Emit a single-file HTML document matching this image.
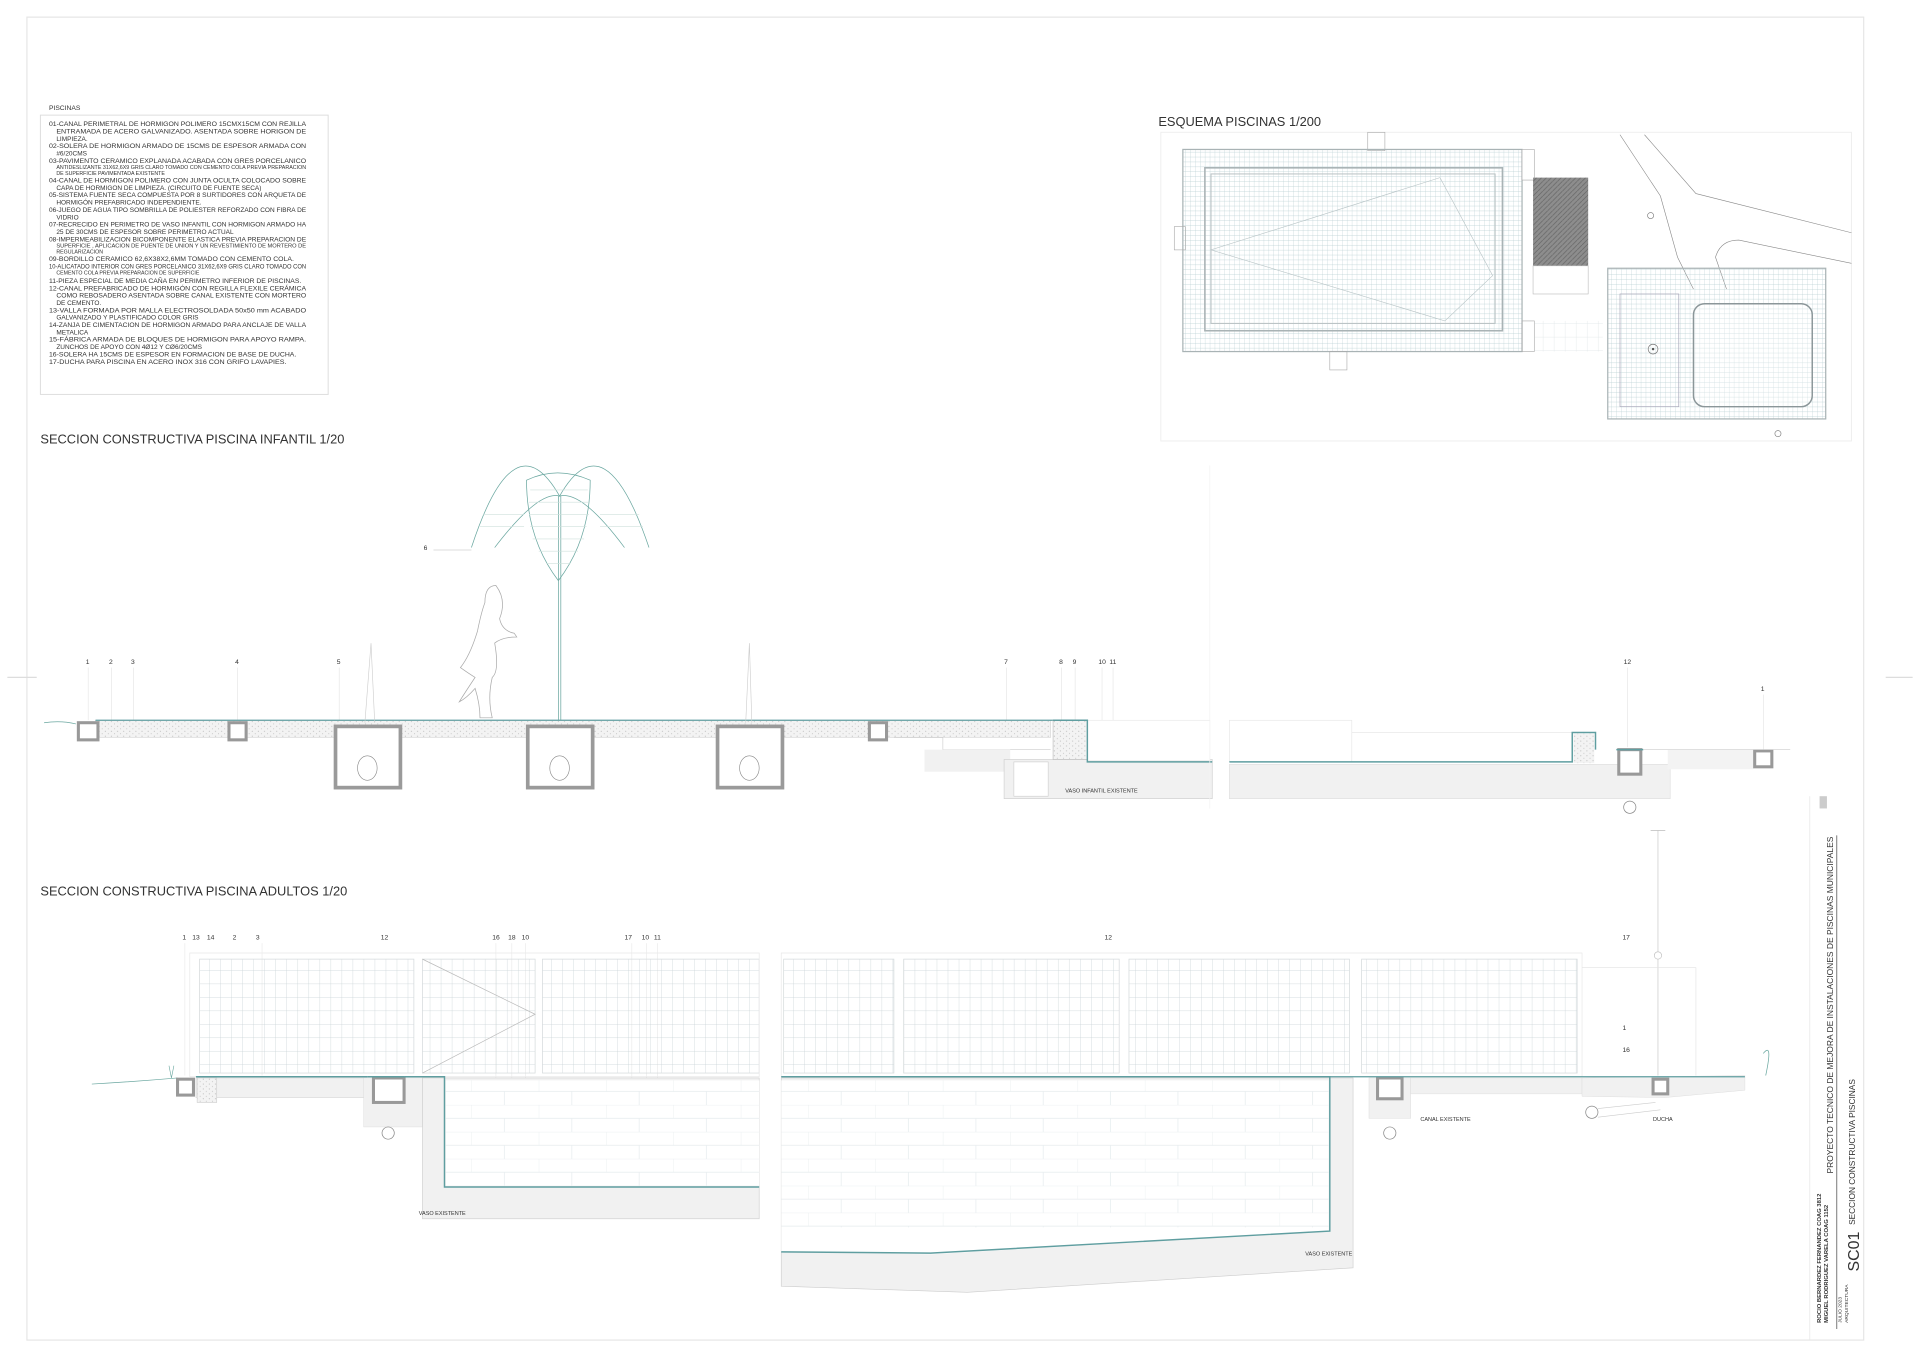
<!DOCTYPE html>
<html><head><meta charset="utf-8"><style>
html,body{margin:0;padding:0;background:#fff}
svg{display:block}
text{font-family:"Liberation Sans",sans-serif;fill:#333}
</style></head><body>
<svg width="1920" height="1356" viewBox="0 0 1568 1107" preserveAspectRatio="none" xmlns="http://www.w3.org/2000/svg">
<defs>
<pattern id="tile" width="4" height="4" patternUnits="userSpaceOnUse"><path d="M4 0H0V4" fill="none" stroke="#b9cfd3" stroke-width="0.5"/></pattern>
<pattern id="fence" width="9" height="11" patternUnits="userSpaceOnUse"><path d="M9 0H0V11" fill="none" stroke="#c9d3d6" stroke-width="0.6"/></pattern>
<pattern id="dots" width="5" height="4" patternUnits="userSpaceOnUse"><rect width="5" height="4" fill="#f3f3f3"/><circle cx="1" cy="1" r="0.4" fill="#aaa"/><circle cx="3.5" cy="3" r="0.4" fill="#bbb"/></pattern>
<pattern id="hatch" width="4" height="4" patternUnits="userSpaceOnUse"><rect width="4" height="4" fill="#8d8d8d"/><path d="M0 4L4 0" stroke="#666" stroke-width="0.6"/></pattern>
<pattern id="bricks" width="55" height="22" patternUnits="userSpaceOnUse"><path d="M0 0H55M0 11H55M0 0V11M27 11V22" fill="none" stroke="#e6ecee" stroke-width="0.6"/></pattern>
</defs>
<rect x="22" y="14" width="1500" height="1080" fill="none" stroke="#e6e6e6" stroke-width="1"/>
<line x1="6" y1="553" x2="30" y2="553" stroke="#ddd"/><line x1="1540" y1="553" x2="1562" y2="553" stroke="#ddd"/>

<text x="40" y="90" font-size="5.5">PISCINAS</text>
<rect x="33" y="94" width="235" height="228" fill="none" stroke="#ddd" stroke-width="0.8"/>
<g font-size="5.3" lengthAdjust="spacingAndGlyphs">
<text x="40" y="103" textLength="210" lengthAdjust="spacingAndGlyphs">01-CANAL PERIMETRAL DE HORMIGON POLIMERO 15CMX15CM CON   REJILLA</text>
<text x="46" y="109" textLength="204" lengthAdjust="spacingAndGlyphs">ENTRAMADA DE ACERO GALVANIZADO. ASENTADA SOBRE HORIGON DE</text>
<text x="46" y="115">LIMPIEZA.</text>
<text x="40" y="121" textLength="210" lengthAdjust="spacingAndGlyphs">02-SOLERA DE HORMIGON ARMADO DE 15CMS DE ESPESOR ARMADA CON</text>
<text x="46" y="127">#6/20CMS</text>
<text x="40" y="133" textLength="210" lengthAdjust="spacingAndGlyphs">03-PAVIMENTO  CERAMICO  EXPLANADA  ACABADA  CON  GRES  PORCELANICO</text>
<text x="46" y="138" font-size="4.3" textLength="204" lengthAdjust="spacingAndGlyphs">ANTIDESLIZANTE 31X62,6X9 GRIS CLARO TOMADO CON CEMENTO COLA PREVIA PREPARACION</text>
<text x="46" y="143" font-size="4.3">DE SUPERFICIE PAVIMENTADA EXISTENTE</text>
<text x="40" y="149" textLength="210" lengthAdjust="spacingAndGlyphs">04-CANAL DE HORMIGON POLIMERO CON JUNTA OCULTA COLOCADO SOBRE</text>
<text x="46" y="155">CAPA DE HORMIGON DE LIMPIEZA. (CIRCUITO DE FUENTE SECA)</text>
<text x="40" y="161" textLength="210" lengthAdjust="spacingAndGlyphs">05-SISTEMA FUENTE SECA COMPUESTA POR 8 SURTIDORES CON ARQUETA DE</text>
<text x="46" y="167">HORMIGÓN PREFABRICADO INDEPENDIENTE.</text>
<text x="40" y="173" textLength="210" lengthAdjust="spacingAndGlyphs">06-JUEGO DE AGUA TIPO SOMBRILLA DE POLIESTER REFORZADO CON FIBRA DE</text>
<text x="46" y="179">VIDRIO</text>
<text x="40" y="185" textLength="210" lengthAdjust="spacingAndGlyphs">07-RECRECIDO EN PERIMETRO DE VASO INFANTIL CON HORMIGON ARMADO HA</text>
<text x="46" y="191">25  DE 30CMS DE ESPESOR SOBRE PERIMETRO ACTUAL</text>
<text x="40" y="197" textLength="210" lengthAdjust="spacingAndGlyphs">08-IMPERMEABILIZACION    BICOMPONENTE  ELASTICA  PREVIA  PREPARACION  DE</text>
<text x="46" y="202" font-size="4.3" textLength="204" lengthAdjust="spacingAndGlyphs">SUPERFICIE , APLICACION DE PUENTE DE UNION Y UN  REVESTIMIENTO DE MORTERO DE</text>
<text x="46" y="207" font-size="4.3">REGULARIZACION</text>
<text x="40" y="213" textLength="200" lengthAdjust="spacingAndGlyphs">09-BORDILLO CERAMICO 62,6X38X2,6MM TOMADO CON CEMENTO COLA.</text>
<text x="40" y="219" textLength="210" lengthAdjust="spacingAndGlyphs">10-ALICATADO INTERIOR CON GRES PORCELANICO 31X62,6X9 GRIS CLARO TOMADO CON</text>
<text x="46" y="224" font-size="4.3">CEMENTO COLA PREVIA PREPARACION DE SUPERFICIE</text>
<text x="40" y="231" textLength="206" lengthAdjust="spacingAndGlyphs">11-PIEZA ESPECIAL DE MEDIA CAÑA EN PERIMETRO INFERIOR DE PISCINAS.</text>
<text x="40" y="237" textLength="210" lengthAdjust="spacingAndGlyphs">12-CANAL  PREFABRICADO DE HORMIGÓN CON REGILLA FLEXILE CERÁMICA</text>
<text x="46" y="243" textLength="204" lengthAdjust="spacingAndGlyphs">COMO REBOSADERO ASENTADA SOBRE CANAL EXISTENTE CON  MORTERO</text>
<text x="46" y="249">DE CEMENTO.</text>
<text x="40" y="255" textLength="210" lengthAdjust="spacingAndGlyphs">13-VALLA   FORMADA POR MALLA ELECTROSOLDADA   50x50 mm ACABADO</text>
<text x="46" y="261">GALVANIZADO Y PLASTIFICADO COLOR GRIS</text>
<text x="40" y="267" textLength="210" lengthAdjust="spacingAndGlyphs">14-ZANJA DE CIMENTACION DE HORMIGON ARMADO PARA ANCLAJE DE VALLA</text>
<text x="46" y="273">METALICA</text>
<text x="40" y="279" textLength="210" lengthAdjust="spacingAndGlyphs">15-FÁBRICA ARMADA DE BLOQUES DE HORMIGON PARA APOYO RAMPA.</text>
<text x="46" y="285">ZUNCHOS DE APOYO CON 4Ø12 Y CØ6/20CMS</text>
<text x="40" y="291" textLength="202" lengthAdjust="spacingAndGlyphs">16-SOLERA HA 15CMS DE ESPESOR EN FORMACION DE BASE DE DUCHA.</text>
<text x="40" y="297" textLength="194" lengthAdjust="spacingAndGlyphs">17-DUCHA PARA PISCINA EN ACERO INOX 316 CON GRIFO LAVAPIES.</text>
</g>

<text x="946" y="103" font-size="10.5">ESQUEMA PISCINAS 1/200</text>
<rect x="948" y="108" width="564" height="252" fill="none" stroke="#eee" stroke-width="0.8"/>
<rect x="1117" y="108" width="14" height="15" fill="none" stroke="#aaa" stroke-width="0.5"/>
<rect x="966" y="122" width="277" height="165" fill="url(#tile)" stroke="#a9b3b5" stroke-width="1"/>
<rect x="984" y="137" width="243" height="133" fill="none" stroke="#a9b3b5" stroke-width="1.3"/>
<rect x="989" y="142" width="232" height="122" fill="none" stroke="#b8c0c2" stroke-width="0.8"/>
<polyline points="1176,145 989,204 1180,262 1219,225 1176,145" fill="none" stroke="#b8c4c6" stroke-width="0.5"/>
<rect x="1243" y="122" width="10" height="25" fill="#fff" stroke="#aaa" stroke-width="0.5"/>
<rect x="1252" y="145" width="45" height="72" fill="url(#hatch)"/>
<rect x="1252" y="217" width="45" height="23" fill="none" stroke="#bbb" stroke-width="0.5"/>
<rect x="959" y="185" width="9" height="19" fill="none" stroke="#aaa" stroke-width="0.5"/>
<rect x="1086" y="287" width="14" height="15" fill="none" stroke="#aaa" stroke-width="0.5"/>
<rect x="1243" y="262" width="10" height="25" fill="none" stroke="#aaa" stroke-width="0.5"/>
<rect x="1253" y="262" width="56" height="25" fill="url(#fence)" opacity="0.6"/>
<path d="M1323 110L1356 160L1370 210L1383 236M1343 110L1385 158L1512 190M1512 215L1420 196Q1405 196 1401 210L1410 236" fill="none" stroke="#888" stroke-width="0.5"/>
<circle cx="1348" cy="176" r="2.5" fill="none" stroke="#777" stroke-width="0.5"/>
<circle cx="1452" cy="354" r="2.5" fill="none" stroke="#777" stroke-width="0.5"/>
<rect x="1313" y="219" width="178" height="123" fill="url(#tile)" stroke="#a9b3b5" stroke-width="1"/>
<rect x="1323" y="240" width="48" height="92" fill="none" stroke="#aab" stroke-width="0.6"/>
<rect x="1383" y="248" width="97" height="84" rx="9" fill="#fff" fill-opacity="0.3" stroke="#8b9699" stroke-width="1.2"/>
<circle cx="1350" cy="285" r="4" fill="none" stroke="#777" stroke-width="0.6"/><circle cx="1350" cy="285" r="1" fill="#555"/>

<text x="33" y="362" font-size="10.5">SECCION CONSTRUCTIVA PISCINA INFANTIL 1/20</text>
<g stroke="#6aa7a0" stroke-width="0.6" fill="none">
<path d="M385 447Q420 340 457 405Q494 340 530 447"/>
<path d="M404 447Q440 400 457 405Q475 400 510 447" />
<path d="M430 392Q455 380 482 392Q482 440 456 474Q430 440 430 392Z"/>
<line x1="456" y1="405" x2="456" y2="590"/><line x1="458" y1="405" x2="458" y2="590"/>
</g>
<g stroke="#cfe0dc" stroke-width="0.5">
<line x1="433" y1="400" x2="480" y2="400"/><line x1="432" y1="410" x2="481" y2="410"/><line x1="432" y1="420" x2="481" y2="420"/><line x1="433" y1="430" x2="479" y2="430"/><line x1="435" y1="440" x2="477" y2="440"/><line x1="440" y1="450" x2="472" y2="450"/><line x1="446" y1="460" x2="466" y2="460"/>
<line x1="395" y1="420" x2="428" y2="420"/><line x1="392" y1="430" x2="428" y2="430"/><line x1="490" y1="420" x2="522" y2="420"/><line x1="490" y1="430" x2="525" y2="430"/>
</g>
<line x1="354" y1="449" x2="385" y2="449" stroke="#bbb" stroke-width="0.5"/>
<text x="346" y="449" font-size="5.5">6</text>
<path d="M405 478Q396 478 396 492Q393 500 390 515Q384 535 376 545Q383 550 388 553Q380 565 375 573Q381 570 388 562Q392 575 392 586L402 586Q398 570 402 553Q408 548 404 525Q410 520 422 520L420 517Q410 515 408 505Q414 490 405 478Z" fill="#fff" stroke="#aaa" stroke-width="0.6"/>
<g font-size="5.5">
<text x="70" y="542">1</text><text x="89" y="542">2</text><text x="107" y="542">3</text><text x="192" y="542">4</text><text x="275" y="542">5</text><text x="820" y="542">7</text><text x="865" y="542">8</text><text x="876" y="542">9</text><text x="897" y="542">10</text><text x="906" y="542">11</text><text x="1326" y="542">12</text><text x="1438" y="564">1</text>
</g>
<g stroke="#ddd" stroke-width="0.4">
<line x1="72" y1="545" x2="72" y2="588"/><line x1="91" y1="545" x2="91" y2="588"/><line x1="109" y1="545" x2="109" y2="588"/><line x1="194" y1="545" x2="194" y2="588"/><line x1="277" y1="545" x2="277" y2="588"/><line x1="822" y1="545" x2="822" y2="588"/><line x1="867" y1="545" x2="867" y2="588"/><line x1="878" y1="545" x2="878" y2="588"/><line x1="900" y1="545" x2="900" y2="610"/><line x1="909" y1="545" x2="909" y2="620"/><line x1="1329" y1="545" x2="1329" y2="610"/><line x1="1440" y1="567" x2="1440" y2="612"/>
</g>
<path d="M36 590Q50 588 62 591" stroke="#6aa7a0" fill="none" stroke-width="0.6"/>
<rect x="78" y="588" width="780" height="14" fill="url(#dots)" stroke="#ccc" stroke-width="0.4"/>
<line x1="78" y1="588" x2="878" y2="588" stroke="#5f9ea0" stroke-width="1"/>
<path d="M730 602L770 602L770 612L858 612" fill="none" stroke="#ccc" stroke-width="0.5"/>
<rect x="755" y="612" width="70" height="18" fill="#f1f1f1"/>
<g fill="#fff" stroke="#999" stroke-width="2.5">
<rect x="64" y="590" width="16" height="14"/><rect x="187" y="590" width="14" height="14"/><rect x="710" y="590" width="14" height="14"/>
<rect x="274" y="593" width="53" height="50" stroke="#9a9a9a" stroke-width="3"/>
<rect x="431" y="593" width="53" height="50" stroke="#9a9a9a" stroke-width="3"/>
<rect x="586" y="593" width="53" height="50" stroke="#9a9a9a" stroke-width="3"/>
</g>
<g fill="none" stroke="#888" stroke-width="0.5">
<ellipse cx="300" cy="627" rx="8" ry="10"/><ellipse cx="457" cy="627" rx="8" ry="10"/><ellipse cx="612" cy="627" rx="8" ry="10"/>
</g>
<g stroke="#ccc" stroke-width="0.5" fill="none"><path d="M298 590L303 525L306 590M609 590L612 525L614 590"/></g>
<rect x="820" y="620" width="170" height="32" fill="#f1f1f1" stroke="#ccc" stroke-width="0.5"/>
<rect x="828" y="622" width="28" height="28" fill="#fff" stroke="#ccc" stroke-width="0.5"/>
<rect x="888" y="588" width="100" height="33" fill="#fff" stroke="#e6e6e6" stroke-width="0.5"/>
<rect x="860" y="588" width="28" height="32" fill="url(#dots)" stroke="#bbb" stroke-width="0.5"/>
<path d="M860 588H888V622H990" fill="none" stroke="#5f9ea0" stroke-width="1.2"/>
<text x="870" y="647" font-size="4.5">VASO INFANTIL EXISTENTE</text>
<rect x="1004" y="588" width="100" height="34" fill="#fff" stroke="#e5e5e5" stroke-width="0.5"/>
<rect x="1104" y="598" width="180" height="24" fill="#fff" stroke="#e5e5e5" stroke-width="0.5"/>
<rect x="1004" y="624" width="360" height="28" fill="#f1f1f1" stroke="#ddd" stroke-width="0.5"/>
<path d="M1004 622H1284V598H1303V612" fill="none" stroke="#5f9ea0" stroke-width="1.2"/>
<rect x="1285" y="599" width="17" height="24" fill="url(#dots)"/>
<rect x="1322" y="612" width="18" height="20" fill="#fff" stroke="#999" stroke-width="2.5"/>
<line x1="1320" y1="612" x2="1342" y2="612" stroke="#5f9ea0" stroke-width="1.2"/>
<rect x="1362" y="612" width="70" height="16" fill="#f3f3f3"/>
<rect x="1433" y="613" width="14" height="13" fill="#fff" stroke="#999" stroke-width="2.5"/>
<line x1="1342" y1="612" x2="1462" y2="612" stroke="#ccc" stroke-width="0.5"/>
<circle cx="1331" cy="659" r="5" fill="none" stroke="#888" stroke-width="0.6"/>
<line x1="988" y1="380" x2="988" y2="660" stroke="#f2f2f2" stroke-width="0.6"/>

<text x="33" y="731" font-size="10.5">SECCION CONSTRUCTIVA PISCINA ADULTOS 1/20</text>
<g font-size="5.5">
<text x="149" y="767">1</text><text x="157" y="767">13</text><text x="169" y="767">14</text><text x="190" y="767">2</text><text x="209" y="767">3</text><text x="311" y="767">12</text><text x="402" y="767">16</text><text x="415" y="767">18</text><text x="426" y="767">10</text><text x="510" y="767">17</text><text x="524" y="767">10</text><text x="534" y="767">11</text><text x="902" y="767">12</text><text x="1325" y="767">17</text><text x="1325" y="841">1</text><text x="1325" y="859">16</text>
</g>
<g stroke="#e2e2e2" stroke-width="0.4">
<line x1="151" y1="770" x2="151" y2="878"/><line x1="214" y1="770" x2="214" y2="878"/><line x1="405" y1="770" x2="405" y2="910"/><line x1="418" y1="770" x2="418" y2="918"/><line x1="429" y1="770" x2="429" y2="918"/><line x1="516" y1="770" x2="516" y2="945"/><line x1="528" y1="770" x2="528" y2="945"/><line x1="537" y1="770" x2="537" y2="965"/>
</g>
<g fill="url(#fence)" stroke="#d5dadc" stroke-width="0.6">
<rect x="163" y="783" width="175" height="93"/><rect x="443" y="783" width="177" height="93"/>
<rect x="640" y="783" width="90" height="93"/><rect x="738" y="783" width="176" height="93"/><rect x="922" y="783" width="180" height="93"/><rect x="1112" y="783" width="176" height="93"/>
</g>
<rect x="345" y="783" width="92" height="93" fill="url(#fence)" stroke="#d5dadc" stroke-width="0.6"/>
<path d="M345 783L437 828L345 876" fill="none" stroke="#bbb" stroke-width="0.6"/>
<rect x="155" y="778" width="465" height="101" fill="none" stroke="#e8e8e8" stroke-width="0.6"/>
<rect x="638" y="778" width="654" height="101" fill="none" stroke="#e8e8e8" stroke-width="0.6"/>
<line x1="1354" y1="678" x2="1354" y2="878" stroke="#ccc" stroke-width="0.6"/>
<line x1="1348" y1="678" x2="1360" y2="678" stroke="#bbb" stroke-width="0.6"/>
<circle cx="1354" cy="780" r="3" fill="#fff" stroke="#bbb" stroke-width="0.5"/>
<path d="M1292 790H1385V878" fill="none" stroke="#e2e2e2" stroke-width="0.5"/>
<path d="M1440 860Q1448 850 1442 878" stroke="#6aa7a0" fill="none" stroke-width="0.6"/>
<path d="M75 885Q110 883 145 880" stroke="#6aa7a0" fill="none" stroke-width="0.6"/>
<path d="M138 870L140 880L142 870" stroke="#6aa7a0" fill="none" stroke-width="0.5"/>
<rect x="160" y="880" width="140" height="16" fill="#f1f1f1" stroke="#ccc" stroke-width="0.4"/>
<rect x="161" y="880" width="16" height="20" fill="url(#dots)" stroke="#ccc" stroke-width="0.5"/>
<rect x="145" y="881" width="13" height="13" fill="#fff" stroke="#999" stroke-width="2.5"/>
<rect x="297" y="880" width="48" height="40" fill="#f1f1f1" stroke="#ddd" stroke-width="0.4"/>
<rect x="305" y="880" width="25" height="20" fill="#fff" stroke="#999" stroke-width="2.5"/>
<circle cx="317" cy="925" r="5" fill="none" stroke="#888" stroke-width="0.6"/>
<rect x="345" y="880" width="275" height="115" fill="#f1f1f1" stroke="#ccc" stroke-width="0.5"/>
<rect x="364" y="882" width="256" height="86" fill="#fff"/>
<rect x="364" y="882" width="256" height="86" fill="url(#bricks)"/>
<path d="M160 879H300M330 879H363V969H620" fill="none" stroke="#5f9ea0" stroke-width="1.2"/>
<path d="M300 879H330" stroke="#5f9ea0" stroke-width="1.2"/>
<text x="342" y="992" font-size="4.5">VASO EXISTENTE</text>
<path d="M638 880H1105V1035L790 1055L638 1050Z" fill="#f1f1f1" stroke="#ccc" stroke-width="0.5"/>
<path d="M638 882H1085V1005L760 1024L638 1022Z" fill="#fff"/>
<rect x="638" y="882" width="447" height="120" fill="url(#bricks)"/>
<path d="M638 879H1086V1005L760 1023L638 1022" fill="none" stroke="#5f9ea0" stroke-width="1.2"/>
<text x="1066" y="1025" font-size="4.5">VASO EXISTENTE</text>
<rect x="1118" y="880" width="34" height="33" fill="#f1f1f1" stroke="#ddd" stroke-width="0.4"/>
<rect x="1125" y="880" width="20" height="17" fill="#fff" stroke="#999" stroke-width="2.5"/>
<circle cx="1135" cy="925" r="5" fill="none" stroke="#888" stroke-width="0.6"/>
<text x="1160" y="915" font-size="4.5">CANAL EXISTENTE</text>
<rect x="1152" y="880" width="140" height="13" fill="#f1f1f1" stroke="#ddd" stroke-width="0.4"/>
<path d="M1292 880L1425 878V890L1360 896L1292 895Z" fill="#f1f1f1" stroke="#ddd" stroke-width="0.4"/>
<rect x="1350" y="881" width="12" height="12" fill="#fff" stroke="#999" stroke-width="2.5"/>
<path d="M1086 879H1425" stroke="#5f9ea0" stroke-width="1"/>
<circle cx="1300" cy="908" r="5" fill="none" stroke="#888" stroke-width="0.6"/>
<path d="M1305 905L1352 900M1305 912L1356 906" stroke="#ccc" stroke-width="0.5"/>
<text x="1350" y="915" font-size="4.5">DUCHA</text>

<line x1="1478" y1="650" x2="1478" y2="1094" stroke="#e6e6e6" stroke-width="0.6"/>
<line x1="1500" y1="682" x2="1500" y2="1085" stroke="#777" stroke-width="0.8"/>
<g>
<text transform="translate(1487 1080) rotate(-90)" font-size="4.8" font-weight="bold">ROCIO BERNARDEZ FERNANDEZ COAG 3812</text>
<text transform="translate(1493 1080) rotate(-90)" font-size="4.8" font-weight="bold">MIGUEL RODRIGUEZ VARELA COAG 1152</text>
<text transform="translate(1497 958) rotate(-90)" font-size="7" textLength="275" lengthAdjust="spacingAndGlyphs">PROYECTO  TECNICO DE MEJORA DE INSTALACIONES  DE PISCINAS MUNICIPALES</text>
<text transform="translate(1504 1080) rotate(-90)" font-size="4">JULIO 2023</text>
<text transform="translate(1509 1080) rotate(-90)" font-size="4">ARQUITECTURA</text>
<text transform="translate(1518 1038) rotate(-90)" font-size="13">SC01</text>
<text transform="translate(1515 1000) rotate(-90)" font-size="6.8">SECCION CONSTRUCTIVA PISCINAS</text>
</g>
<rect x="1486" y="650" width="6" height="10" fill="#ccc"/>
</svg>
</body></html>
